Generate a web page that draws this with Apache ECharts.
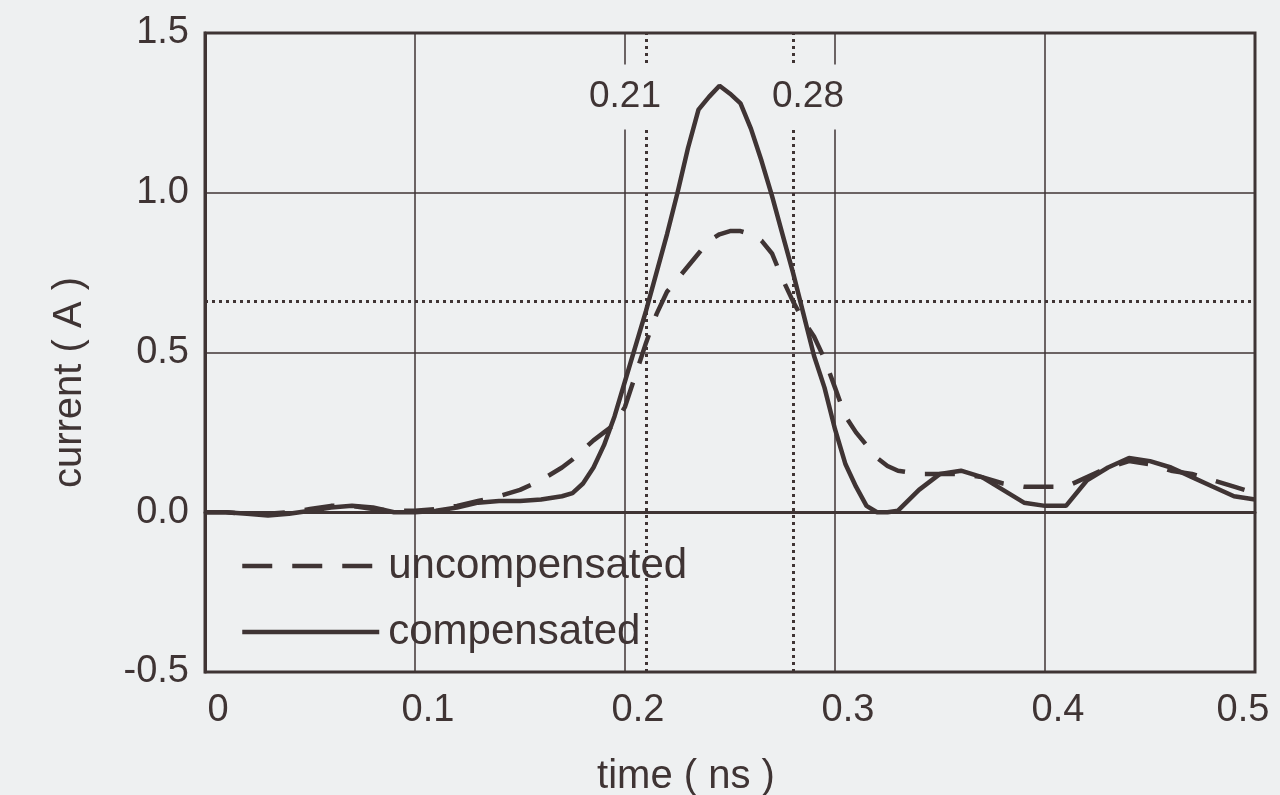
<!DOCTYPE html>
<html>
<head>
<meta charset="utf-8">
<script src="https://cdn.jsdelivr.net/npm/echarts@6/dist/echarts.min.js"></script>
<style>
  html, body { margin: 0; padding: 0; background: #eef0f1; }
  #chart { width: 1280px; height: 795px; }
</style>
</head>
<body>
<div id="chart"></div>
<script>
// ---- data ----
const times = [
  0.00, 0.01, 0.02, 0.03, 0.04, 0.05, 0.06, 0.07, 0.08, 0.09, 0.10,
  0.11, 0.12, 0.13, 0.14, 0.15, 0.16,
  0.170, 0.175, 0.180, 0.185, 0.190, 0.195, 0.200, 0.205, 0.210, 0.215,
  0.220, 0.225, 0.230, 0.235, 0.240, 0.245, 0.250, 0.255, 0.260, 0.265,
  0.270, 0.275, 0.280, 0.285, 0.290, 0.295, 0.300, 0.305, 0.310, 0.315,
  0.320, 0.325, 0.330,
  0.34, 0.35, 0.36, 0.37, 0.38, 0.39, 0.40, 0.41, 0.42, 0.43, 0.44,
  0.45, 0.46, 0.47, 0.48, 0.49, 0.50
];
const uncompensated = [
  0.000, 0.000, -0.005, -0.005, 0.000, 0.010, 0.020, 0.020, 0.010, 0.005, 0.005,
  0.010, 0.020, 0.035, 0.050, 0.070, 0.100,
  0.140, 0.165, 0.195, 0.225, 0.250, 0.275, 0.330, 0.430, 0.530, 0.620,
  0.690, 0.730, 0.770, 0.810, 0.850, 0.870, 0.880, 0.880, 0.870, 0.850,
  0.810, 0.730, 0.660, 0.600, 0.550, 0.480, 0.390, 0.300, 0.250, 0.210,
  0.170, 0.145, 0.130,
  0.120, 0.120, 0.120, 0.110, 0.090, 0.080, 0.080, 0.080, 0.110, 0.140, 0.160,
  0.150, 0.130, 0.120, 0.100, 0.080, 0.060
];
const compensated = [
  0.000, 0.000, -0.005, -0.010, -0.005, 0.005, 0.015, 0.020, 0.015, 0.000, 0.000,
  0.005, 0.015, 0.030, 0.035, 0.035, 0.040,
  0.050, 0.060, 0.090, 0.140, 0.210, 0.300, 0.410, 0.520, 0.630, 0.750,
  0.870, 1.000, 1.140, 1.260, 1.300, 1.335, 1.310, 1.280, 1.200, 1.100,
  0.990, 0.870, 0.750, 0.620, 0.490, 0.390, 0.260, 0.150, 0.080, 0.020,
  0.000, 0.000, 0.005,
  0.070, 0.120, 0.130, 0.110, 0.070, 0.030, 0.020, 0.020, 0.100, 0.140, 0.170,
  0.160, 0.140, 0.110, 0.080, 0.050, 0.040
];
const markerTimes = [0.21, 0.28];
const markerLabels = ['0.21', '0.28'];
const markerLevel = 0.655;
const xTicks = ['0', '0.1', '0.2', '0.3', '0.4', '0.5'];
const yTicks = ['-0.5', '0.0', '0.5', '1.0', '1.5'];

// ---- chart ----
const ink = '#3f3434';
const bg = '#eef0f1';
const chart = echarts.init(document.getElementById('chart'), null, { renderer: 'canvas' });

const pairs = (vals) => times.map((t, i) => [t, vals[i]]);
const labelOffsets = [[-21, 0], [15, 0]];

chart.setOption({
  backgroundColor: bg,
  animation: false,
  textStyle: { fontFamily: 'Liberation Sans, Arial, sans-serif', color: ink },
  grid: {
    left: 205, right: 25, top: 33, bottom: 123,
    outerBoundsMode: 'none', containLabel: false,
    show: true, borderColor: ink, borderWidth: 3, backgroundColor: 'transparent'
  },
  legend: {
    left: 235, top: 540, orient: 'vertical',
    itemWidth: 137, itemHeight: 40, itemGap: 24,
    itemStyle: { opacity: 0, borderWidth: 0 },
    lineStyle: { width: 4.5 },
    textStyle: { fontSize: 42, color: ink, padding: [0, 0, 0, 4] },
    data: ['uncompensated', 'compensated']
  },
  xAxis: {
    type: 'value', min: 0, max: 0.5, interval: 0.1,
    name: 'time ( ns )', nameLocation: 'middle', nameGap: 85,
    nameTextStyle: { fontSize: 40, color: ink, padding: [0, 88, 0, 0] },
    axisLine: { show: true, lineStyle: { color: ink, width: 3 } },
    axisTick: { show: false },
    axisLabel: {
      fontSize: 38, color: ink, margin: 20,
      formatter: (v) => {
        const i = Math.round(v * 10);
        return i === xTicks.length - 1 ? '{e|' + xTicks[i] + '}' : '{s|' + xTicks[i] + '}';
      },
      rich: {
        s: { fontSize: 38, color: ink, padding: [0, 0, 0, 26] },
        e: { fontSize: 38, color: ink, padding: [0, 24, 0, 0] }
      }
    },
    splitLine: { show: true, lineStyle: { color: ink, width: 1.5 } }
  },
  yAxis: {
    type: 'value', min: -0.5, max: 1.5, interval: 0.5,
    name: 'current ( A )', nameLocation: 'middle', nameGap: 115,
    nameTextStyle: { fontSize: 40, color: ink, padding: [0, 60, 0, 0] },
    axisLine: { show: true, lineStyle: { color: ink, width: 3 } },
    axisTick: { show: false },
    axisLabel: {
      fontSize: 38, color: ink, margin: 16,
      formatter: (v) => yTicks[Math.round((v + 0.5) * 2)]
    },
    splitLine: { show: true, lineStyle: { color: ink, width: 1.5 } }
  },
  series: [
    {
      name: 'guides', type: 'line', data: [], z: 2, silent: true,
      markLine: {
        silent: true, symbol: 'none', animation: false,
        label: { show: false },
        lineStyle: { color: ink, width: 3, type: [3, 4] },
        data: [
          ...markerTimes.map(t => ({ xAxis: t })),
          { yAxis: markerLevel }
        ]
      }
    },
    {
      name: 'uncompensated', type: 'line', data: pairs(uncompensated),
      symbol: 'none', smooth: false, z: 3,
      lineStyle: { color: ink, width: 4.5, type: [30, 20] },
      itemStyle: { color: ink }
    },
    {
      name: 'compensated', type: 'line', data: pairs(compensated),
      symbol: 'none', smooth: false, z: 4,
      lineStyle: { color: ink, width: 4.5, type: 'solid' },
      itemStyle: { color: ink }
    },
    {
      name: 'labels', type: 'line', data: [], z: 10, silent: true,
      markPoint: {
        silent: true, symbol: 'rect', symbolSize: 0,
        data: markerTimes.map((t, i) => ({
          coord: [t, 1.3],
          label: {
            show: true, formatter: markerLabels[i], position: 'inside',
            offset: labelOffsets[i], fontSize: 37, color: ink,
            backgroundColor: bg, padding: [14, 6, 14, 6]
          }
        }))
      }
    }
  ]
});
</script>
</body>
</html>
